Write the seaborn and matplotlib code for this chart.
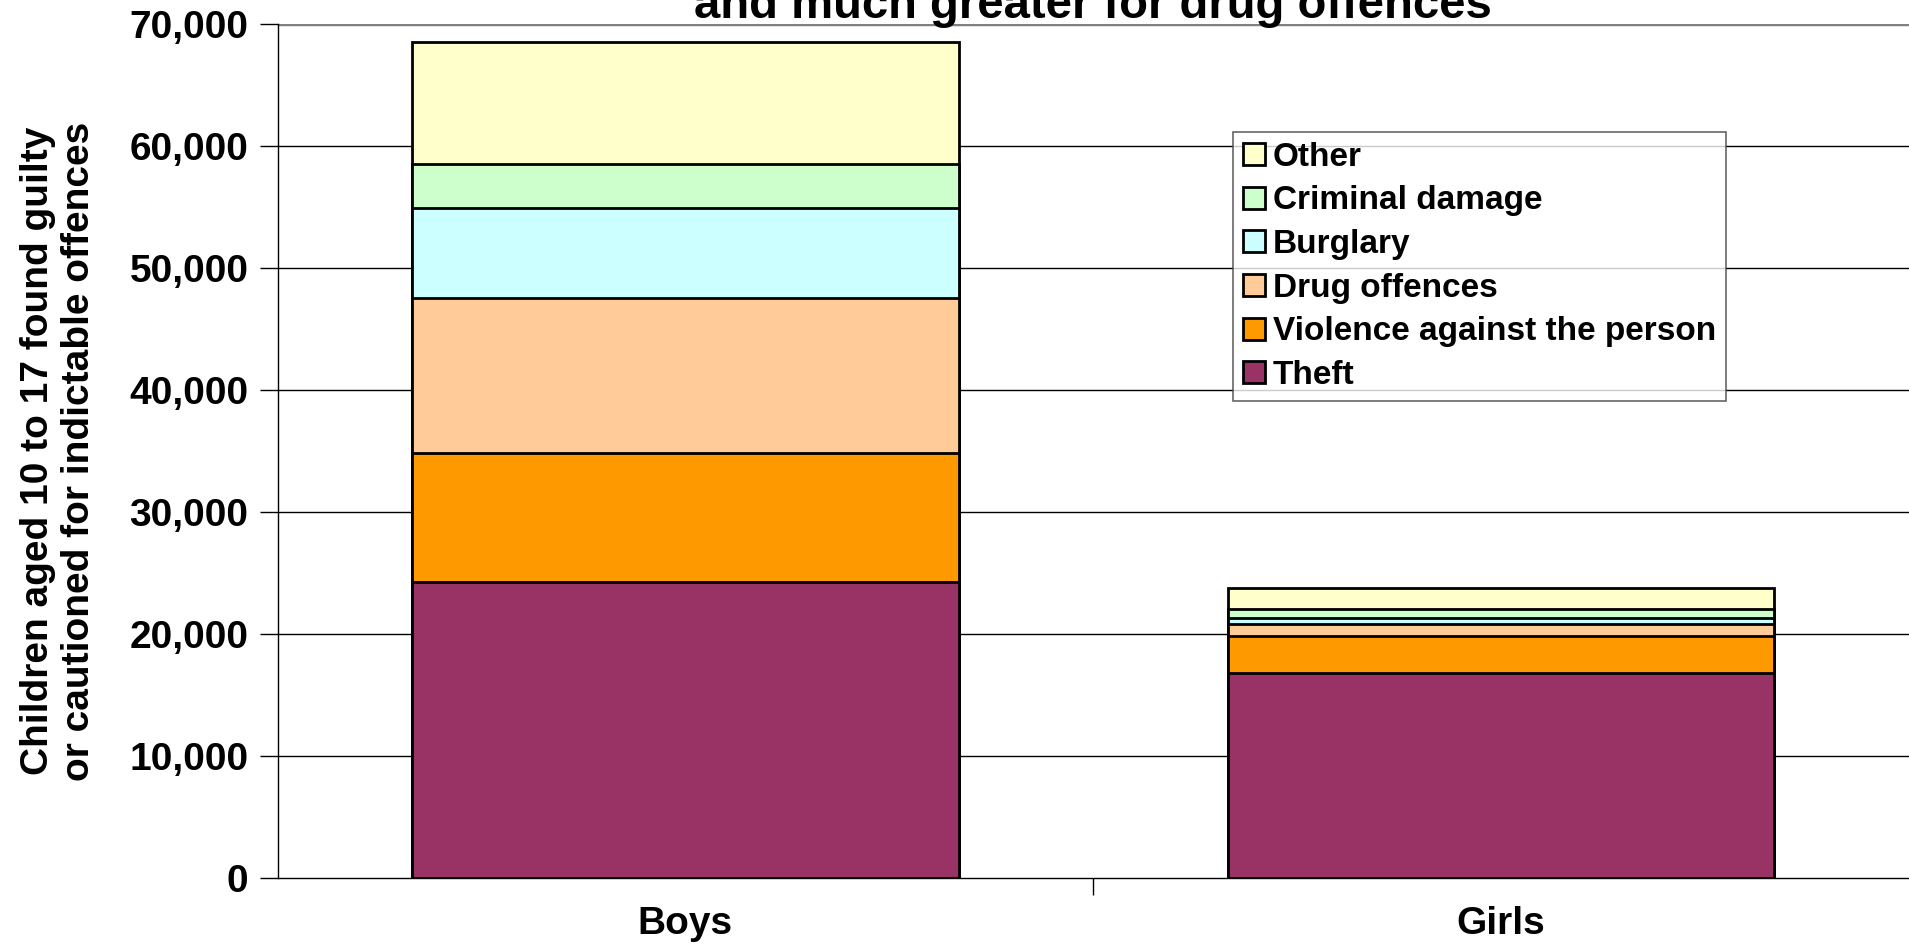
import numpy as np
import pandas as pd
import matplotlib
matplotlib.use("Agg")
import matplotlib.pyplot as plt
import seaborn as sns
from matplotlib.patches import Patch
from matplotlib.ticker import FuncFormatter, MultipleLocator

# data
groups = ["Boys", "Girls"]
offences = ["Theft", "Violence against the person", "Drug offences",
            "Burglary", "Criminal damage", "Other"]
theft = [24300, 16800]
violence = [10550, 3000]
drugs = [12700, 1050]
burglary = [7400, 470]
criminal_damage = [3600, 740]
other = [10000, 1720]

colours = ["#993366", "#FF9900", "#FFCC99", "#CCFFFF", "#CCFFCC", "#FFFFCC"]

df = pd.DataFrame({"group": groups, "Theft": theft,
                   "Violence against the person": violence,
                   "Drug offences": drugs, "Burglary": burglary,
                   "Criminal damage": criminal_damage, "Other": other})
cum = df[offences].cumsum(axis=1)

sns.set_style("white")
plt.rcParams["font.family"] = ["Liberation Sans", "DejaVu Sans"]
plt.rcParams["font.weight"] = "bold"
plt.rcParams["text.color"] = "black"
plt.rcParams["axes.labelcolor"] = "black"
plt.rcParams["xtick.color"] = "black"
plt.rcParams["ytick.color"] = "black"

fig = plt.figure(figsize=(19.09, 9.46), dpi=100)
ax = fig.add_axes([0.1454, 0.0721, 0.8546, 0.9021])

# gridlines behind bars
for v in range(10000, 80000, 10000):
    ax.axhline(v, color="#000000" if v < 70000 else "#808080",
               lw=1.0 if v < 70000 else 2.5, zorder=0)

# stacked bars: draw cumulative totals from the top segment down
for name, col in zip(offences[::-1], colours[::-1]):
    sns.barplot(x=df["group"], y=cum[name], color=col, width=0.67,
                edgecolor="black", linewidth=2, saturation=1, ax=ax, zorder=2)

ax.set_xlim(-0.5, 1.5)
ax.set_ylim(0, 70000)
ax.yaxis.set_major_locator(MultipleLocator(10000))
ax.yaxis.set_major_formatter(FuncFormatter(lambda v, p: f"{int(v):,}"))
ax.tick_params(axis="y", labelsize=28, length=13, width=1, pad=8, left=True)
ax.tick_params(axis="x", labelsize=28, length=0, pad=20)
ax.set_xticks([0.5], minor=True)
ax.tick_params(axis="x", which="minor", length=12, width=1, bottom=True)
for lab in ax.get_xticklabels() + ax.get_yticklabels():
    lab.set_fontweight("bold")

ax.set_xlabel("")
ax.set_ylabel("Children aged 10 to 17 found guilty\nor cautioned for indictable offences",
              fontsize=28, fontweight="bold", labelpad=23, linespacing=1.2)

for s in ["top", "right"]:
    ax.spines[s].set_visible(False)
ax.spines["left"].set_color("black")
ax.spines["bottom"].set_color("black")
ax.spines["left"].set_linewidth(1)
ax.spines["bottom"].set_linewidth(1)

# legend (top entry = top segment)
handles = [Patch(facecolor=c, edgecolor="black", linewidth=2, label=n)
           for n, c in zip(offences[::-1], colours[::-1])]
leg = ax.legend(handles=handles, loc="upper left",
                bbox_to_anchor=((1233 - 277.6) / 1631.4, 1 - (131.7 - 24.4) / 853.4),
                prop={"size": 24, "weight": "bold"}, frameon=True, fancybox=False,
                handlelength=0.65, handleheight=0.65, handletextpad=0.25,
                labelspacing=0.38, borderpad=0.3, borderaxespad=0)
leg.get_frame().set_edgecolor("#404040")
leg.get_frame().set_linewidth(1.2)
leg.set_zorder(5)

# title, clipped at the top as in the reference
fig.text(0.5727, 1 - 18 / 946, "and much greater for drug offences",
         ha="center", va="baseline", fontsize=34, fontweight="bold")

fig.savefig("out.png", dpi=100)
